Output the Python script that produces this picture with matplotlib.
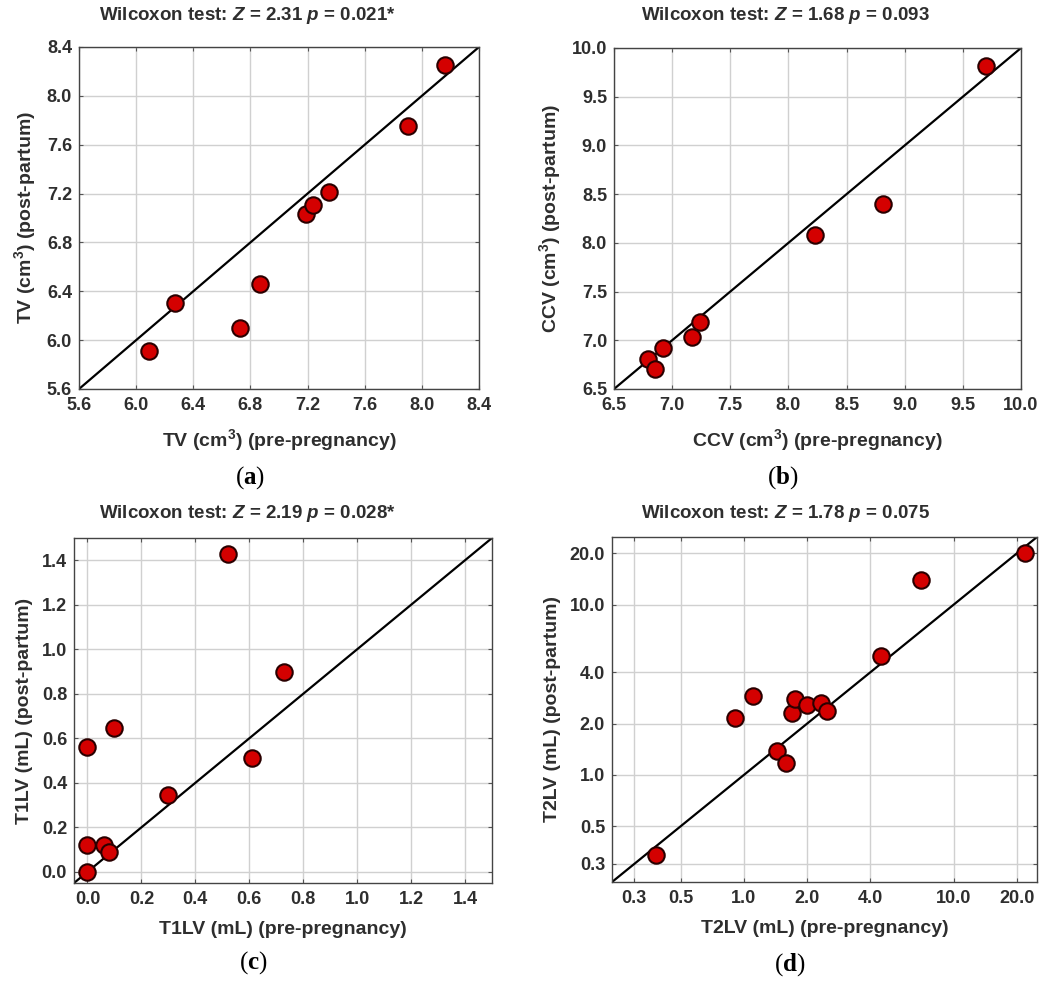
import matplotlib
matplotlib.use("Agg")
import matplotlib.pyplot as plt
import numpy as np

plt.rcParams['font.family'] = ['Liberation Sans', 'DejaVu Sans']
plt.rcParams['font.weight'] = 'bold'
plt.rcParams['mathtext.fontset'] = 'custom'
plt.rcParams['mathtext.rm'] = 'Liberation Sans:bold'
plt.rcParams['mathtext.it'] = 'Liberation Sans:italic:bold'
plt.rcParams['mathtext.bf'] = 'Liberation Serif:bold'

# (a) testicular volume
tv_pre = [6.09, 6.27, 6.73, 6.87, 7.19, 7.24, 7.35, 7.90, 8.16]
tv_post = [5.91, 6.30, 6.10, 6.46, 7.03, 7.11, 7.21, 7.75, 8.25]

# (b) CCV
ccv_pre = [6.79, 6.85, 6.92, 7.17, 7.24, 8.23, 8.81, 9.70]
ccv_post = [6.81, 6.71, 6.92, 7.03, 7.19, 8.08, 8.40, 9.82]

# (c) T1LV
t1_pre = [0.0, 0.0, 0.06, 0.08, 0.0, 0.10, 0.30, 0.52, 0.61, 0.73]
t1_post = [0.0, 0.12, 0.12, 0.09, 0.56, 0.645, 0.345, 1.43, 0.51, 0.90]

# (d) T2LV (log axes)
t2_pre = [0.38, 0.91, 1.10, 1.44, 1.58, 1.70, 1.75, 2.0, 2.32, 2.48, 4.5, 7.0, 21.9]
t2_post = [0.34, 2.15, 2.90, 1.38, 1.18, 2.32, 2.81, 2.56, 2.63, 2.38, 4.98, 14.0, 20.1]

titles = ["Wilcoxon test: $Z$ = 2.31 $p$ = 0.021*",
          "Wilcoxon test: $Z$ = 1.68 $p$ = 0.093",
          "Wilcoxon test: $Z$ = 2.19 $p$ = 0.028*",
          "Wilcoxon test: $Z$ = 1.78 $p$ = 0.075"]
xlabels = ["TV (cm$^3$) (pre-pregnancy)", "CCV (cm$^3$) (pre-pregnancy)",
           "T1LV (mL) (pre-pregnancy)", "T2LV (mL) (pre-pregnancy)"]
ylabels = ["TV (cm$^3$) (post-partum)", "CCV (cm$^3$) (post-partum)",
           "T1LV (mL) (post-partum)", "T2LV (mL) (post-partum)"]
letters = ["a", "b", "c", "d"]

tv_ticks = [5.6, 6.0, 6.4, 6.8, 7.2, 7.6, 8.0, 8.4]
ccv_ticks = [6.5, 7.0, 7.5, 8.0, 8.5, 9.0, 9.5, 10.0]
t1_ticks = [0.0, 0.2, 0.4, 0.6, 0.8, 1.0, 1.2, 1.4]
t2_ticks = [0.3, 0.5, 1.0, 2.0, 4.0, 10.0, 20.0]

txt = '#2e2e2e'

fig = plt.figure(figsize=(10.46, 9.81), dpi=100)
W, H = 1046, 981
# axes boxes in pixels: left, top, right, bottom
boxes = [(79, 47, 479, 389), (614, 48, 1021, 389),
         (74, 538, 492, 883), (612, 537, 1037, 882)]
letter_pos = [(250, 478), (783, 478), (253, 963), (790, 965)]
title_pos = [(247, 16), (785, 16), (247, 513), (786, 513)]
axes = []
for (l, t, r, b) in boxes:
    axes.append(fig.add_axes([l / W, 1 - b / H, (r - l) / W, (b - t) / H]))

data = [(tv_pre, tv_post), (ccv_pre, ccv_post), (t1_pre, t1_post), (t2_pre, t2_post)]
lims = [(5.6, 8.4), (6.5, 10.0), (-0.05, 1.5), (0.235, 25.0)]
ticks = [tv_ticks, ccv_ticks, t1_ticks, t2_ticks]

for i, ax in enumerate(axes):
    x, y = data[i]
    lo, hi = lims[i]
    if i == 3:
        ax.set_xscale('log')
        ax.set_yscale('log')
        ax.minorticks_off()
    ax.set_xlim(lo, hi)
    ax.set_ylim(lo, hi)
    ax.set_xticks(ticks[i])
    ax.set_yticks(ticks[i])
    ax.set_xticklabels([f"{v:.1f}" for v in ticks[i]])
    ax.set_yticklabels([f"{v:.1f}" for v in ticks[i]])
    ax.grid(True, color='#d0d0d0', lw=1.0)
    ax.set_axisbelow(True)
    ax.plot([lo, hi], [lo, hi], color='black', lw=1.6, zorder=2)
    ax.scatter(x, y, s=140, color='#d40000', edgecolor='#2a0000', lw=1.5, zorder=3)
    ax.tick_params(direction='in', length=3, width=0.8, top=True, right=True,
                   labelsize=13, labelcolor=txt, color='#555555')
    ax.tick_params(axis='x', pad=6)
    ax.tick_params(axis='y', pad=5)
    for sp in ax.spines.values():
        sp.set_color('#444444')
        sp.set_linewidth(1.0)
    ax.set_xlabel(xlabels[i], fontsize=14, color=txt, fontweight='bold', labelpad=9)
    ax.set_ylabel(ylabels[i], fontsize=14, color=txt, fontweight='bold', labelpad=6)

    # title sits centred over the whole panel (incl. y label), not the axes
    tx, ty = title_pos[i]
    fig.text(tx / W, 1 - ty / H, titles[i], fontsize=13.5, color=txt,
             fontweight='bold', ha='center', va='center')

    lx, ly = letter_pos[i]
    fig.text(lx / W, 1 - ly / H, r"($\mathbf{" + letters[i] + "}$)",
             family='Liberation Serif', fontsize=18, fontweight='normal',
             ha='center', va='center', color='black')

plt.savefig('out.png', dpi=100, facecolor='white')
